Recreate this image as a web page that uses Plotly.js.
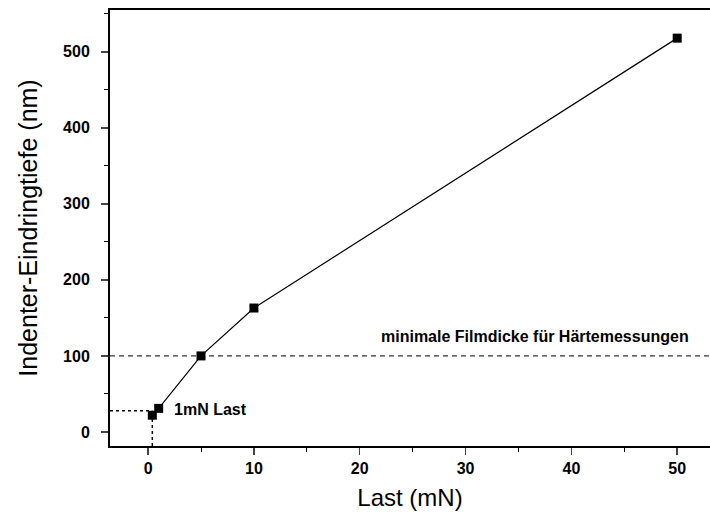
<!DOCTYPE html>
<html><head><meta charset="utf-8">
<script src="https://cdn.plot.ly/plotly-3.0.1.min.js"></script>
<style>body{margin:0;background:#fff}#c{width:710px;height:515px}</style>
</head><body><div id="c"></div>
<script>
const last = [0.4, 1, 5, 10, 50];
const tiefe = [22, 31, 100, 163, 518];
const minFilm = 100;
const refLoadX = 0.4;
const refDepthY = 28;
const xRange = [-3.6, 53.1];
const yRange = [-18.5, 555];
const xTicks = [0, 10, 20, 30, 40, 50];
const yTicks = [0, 100, 200, 300, 400, 500];

const font = {family: 'Liberation Sans, Arial, sans-serif', color: '#000'};
const data = [
  {x: [xRange[0], xRange[1]], y: [minFilm, minFilm], mode: 'lines',
   line: {color: '#000', width: 1, dash: '5px,4px'}, hoverinfo: 'skip'},
  {x: [xRange[0], refLoadX], y: [refDepthY, refDepthY], mode: 'lines',
   line: {color: '#000', width: 1.5, dash: 'dot'}, hoverinfo: 'skip'},
  {x: [refLoadX, refLoadX], y: [yRange[0], tiefe[0]], mode: 'lines',
   line: {color: '#000', width: 1.5, dash: 'dot'}, hoverinfo: 'skip'},
  {x: last, y: tiefe, mode: 'lines+markers',
   line: {color: '#000', width: 1.2},
   marker: {symbol: 'square', size: 9, color: '#000'}}
];
const layout = {
  width: 710, height: 515, showlegend: false,
  paper_bgcolor: '#fff', plot_bgcolor: '#fff',
  margin: {l: 110, r: 0, t: 10, b: 69},
  font: font,
  xaxis: {range: xRange, tickvals: xTicks, ticks: 'outside', ticklen: 7, tickwidth: 1.5,
    showline: true, linewidth: 2, linecolor: '#000', mirror: true, showgrid: false, zeroline: false,
    minor: {dtick: 5, ticks: 'outside', ticklen: 4, tickwidth: 1, tickcolor: '#000'},
    tickfont: {family: font.family, size: 16, color: '#000', weight: 'bold'},
    title: {text: 'Last (mN)', font: {family: font.family, size: 24, color: '#000'}, standoff: 13}},
  yaxis: {range: yRange, tickvals: yTicks, ticks: 'outside', ticklen: 7, tickwidth: 1.5,
    ticklabelstandoff: 8,
    showline: true, linewidth: 2, linecolor: '#000', showgrid: false, zeroline: false,
    minor: {dtick: 50, ticks: 'outside', ticklen: 4, tickwidth: 1, tickcolor: '#000'},
    tickfont: {family: font.family, size: 16, color: '#000', weight: 'bold'},
    title: {text: 'Indenter-Eindringtiefe (nm)', font: {family: font.family, size: 25, color: '#000'}, standoff: 18}},
  annotations: [
    {x: 36.6, y: minFilm, yshift: 19, xref: 'x', yref: 'y', showarrow: false,
     text: 'minimale Filmdicke für Härtemessungen',
     font: {family: font.family, size: 16, color: '#000', weight: 'bold'}},
    {x: 2.3, y: 29, xref: 'x', yref: 'y', xanchor: 'left', showarrow: false,
     text: '1mN Last', font: {family: font.family, size: 16, color: '#000', weight: 'bold'}}
  ]
};
Plotly.newPlot('c', data, layout, {displayModeBar: false, staticPlot: true});
</script></body></html>
